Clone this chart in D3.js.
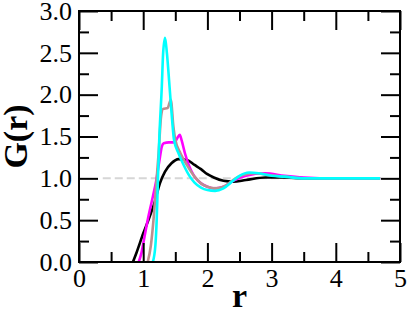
<!DOCTYPE html>
<html>
<head>
<meta charset="utf-8">
<script src="https://cdn.jsdelivr.net/npm/d3@7"></script>
<style>
  body { margin: 0; background: #fff; }
  svg { display: block; }
  .domain { display: none; }
</style>
</head>
<body>
<div id="chart"></div>
<script>
// ---- data ----
const xTicks = [0, 1, 2, 3, 4, 5];
const xMinor = [0.5, 1.5, 2.5, 3.5, 4.5];
const yTicks = [0, 0.5, 1, 1.5, 2, 2.5, 3];
const yMinor = [0.25, 0.75, 1.25, 1.75, 2.25, 2.75];

const blackR = [0.84, 0.9, 1.0, 1.1, 1.18, 1.26, 1.34, 1.44, 1.55, 1.68, 1.8, 1.9, 2.0, 2.1, 2.25, 2.4, 2.6, 2.9, 3.2, 3.5, 4.0, 4.69];
const blackG = [0, 0.12, 0.34, 0.54, 0.72, 0.94, 1.08, 1.18, 1.23, 1.22, 1.16, 1.11, 1.05, 1.01, 0.97, 0.96, 0.98, 1.01, 1.01, 1.0, 1.0, 1.0];

const magentaR = [0.93, 0.97, 1.02, 1.08, 1.15, 1.2, 1.25, 1.29, 1.32, 1.4, 1.49, 1.53, 1.57, 1.6, 1.65, 1.72, 1.8, 1.9, 2.0, 2.1, 2.25, 2.4, 2.6, 2.9, 3.2, 3.5, 4.0, 4.69];
const magentaG = [0, 0.1, 0.3, 0.54, 0.78, 0.96, 1.2, 1.38, 1.42, 1.43, 1.43, 1.48, 1.52, 1.45, 1.3, 1.14, 1.02, 0.94, 0.9, 0.88, 0.9, 0.97, 1.03, 1.06, 1.03, 1.01, 1.0, 1.0];

const rosyR = [1.07, 1.12, 1.16, 1.2, 1.24, 1.28, 1.31, 1.38, 1.43, 1.47, 1.5, 1.58, 1.68, 1.8, 1.9, 2.0, 2.14, 2.3, 2.4, 2.55, 2.75, 2.95, 3.2, 3.5, 4.0, 4.69];
const rosyG = [0, 0.2, 0.5, 0.9, 1.3, 1.75, 1.83, 1.84, 1.94, 1.62, 1.46, 1.3, 1.16, 1.02, 0.94, 0.9, 0.88, 0.92, 0.98, 1.04, 1.06, 1.04, 1.02, 1.0, 1.0, 1.0];

const cyanR = [1.15, 1.19, 1.21, 1.23, 1.25, 1.29, 1.31, 1.34, 1.37, 1.41, 1.45, 1.48, 1.55, 1.63, 1.72, 1.8, 1.9, 2.0, 2.12, 2.25, 2.4, 2.5, 2.65, 2.8, 3.0, 3.2, 3.5, 4.0, 4.69];
const cyanG = [0, 0.2, 0.5, 1.0, 1.46, 2.1, 2.49, 2.68, 2.49, 2.1, 1.7, 1.46, 1.3, 1.16, 1.03, 0.95, 0.89, 0.86, 0.85, 0.88, 0.97, 1.03, 1.07, 1.06, 1.03, 1.02, 1.0, 1.0, 1.0];

const refLine = [0.37, 4.7];

const series = [
  { color: "#000000", r: blackR, g: blackG },
  { color: "#ff00ff", r: magentaR, g: magentaG },
  { color: "#bc8f8f", r: rosyR, g: rosyG },
  { color: "#00ffff", r: cyanR, g: cyanG }
];

// ---- setup ----
const FONT = "'Liberation Serif', 'Times New Roman', serif";
const W = 407, H = 312;
const margin = { top: 11, right: 7, bottom: 50, left: 79 };
const width = W - margin.left - margin.right;
const height = H - margin.top - margin.bottom;

const svg = d3.select("#chart").append("svg")
  .attr("width", W).attr("height", H);
const g = svg.append("g")
  .attr("transform", "translate(" + margin.left + "," + margin.top + ")");

const x = d3.scaleLinear().domain([0, 5]).range([0, width]);
const y = d3.scaleLinear().domain([0, 3]).range([height, 0]);

// dashed reference line at G = 1
g.append("line")
  .attr("x1", x(refLine[0])).attr("x2", x(refLine[1]))
  .attr("y1", y(1)).attr("y2", y(1))
  .attr("stroke", "#d6d6d6").attr("stroke-width", 2)
  .attr("stroke-dasharray", "8,4");

// curves
const line = d3.line()
  .x(d => x(d[0])).y(d => y(d[1]))
  .curve(d3.curveMonotoneX);

series.forEach(s => {
  g.append("path")
    .datum(s.r.map((v, i) => [v, s.g[i]]))
    .attr("fill", "none")
    .attr("stroke", s.color)
    .attr("stroke-width", 2.6)
    .attr("stroke-linejoin", "round")
    .attr("d", line);
});

// axes: inward ticks on all four sides
function styleAxis(sel) {
  sel.attr("font-family", FONT).attr("font-size", 26);
  sel.selectAll(".tick line").attr("stroke-width", 2);
  sel.selectAll(".tick text").attr("fill", "#000");
}
const fmtY = d3.format(".1f");
g.append("g").attr("transform", "translate(0," + height + ")")
  .call(d3.axisBottom(x).tickValues(xTicks).tickSize(-19).tickPadding(7).tickFormat(d3.format("d")))
  .call(styleAxis);
g.append("g").attr("transform", "translate(0," + height + ")")
  .call(d3.axisBottom(x).tickValues(xMinor).tickSize(-10).tickFormat(""))
  .call(styleAxis);
g.append("g")
  .call(d3.axisTop(x).tickValues(xTicks).tickSize(-19).tickFormat(""))
  .call(styleAxis);
g.append("g")
  .call(d3.axisTop(x).tickValues(xMinor).tickSize(-10).tickFormat(""))
  .call(styleAxis);

g.append("g")
  .call(d3.axisLeft(y).tickValues(yTicks).tickSize(-19).tickPadding(7).tickFormat(fmtY))
  .call(styleAxis);
g.append("g")
  .call(d3.axisLeft(y).tickValues(yMinor).tickSize(-10).tickFormat(""))
  .call(styleAxis);
g.append("g").attr("transform", "translate(" + width + ",0)")
  .call(d3.axisRight(y).tickValues(yTicks).tickSize(-19).tickFormat(""))
  .call(styleAxis);
g.append("g").attr("transform", "translate(" + width + ",0)")
  .call(d3.axisRight(y).tickValues(yMinor).tickSize(-10).tickFormat(""))
  .call(styleAxis);

// frame
g.append("rect")
  .attr("width", width).attr("height", height)
  .attr("fill", "none").attr("stroke", "#000").attr("stroke-width", 2);

// axis titles
svg.append("text")
  .attr("font-family", FONT).attr("font-weight", "bold").attr("font-size", 34)
  .attr("x", margin.left + width / 2).attr("y", 307)
  .attr("text-anchor", "middle").text("r");
svg.append("text")
  .attr("font-family", FONT).attr("font-weight", "bold").attr("font-size", 34)
  .attr("transform", "translate(27," + (margin.top + height / 2) + ") rotate(-90)")
  .attr("text-anchor", "middle").text("G(r)");
</script>
</body>
</html>
